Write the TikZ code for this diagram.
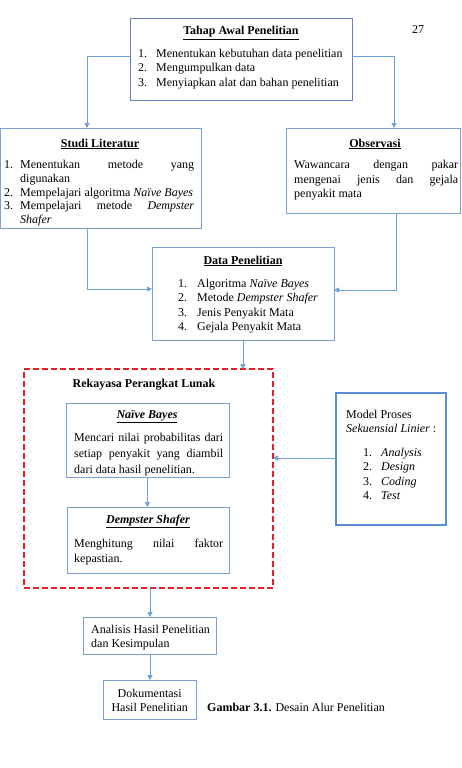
\documentclass[tikz,border=0pt]{standalone}
\usepackage{fontspec}
\setmainfont{Liberation Serif}
\usetikzlibrary{arrows.meta}
\definecolor{bxc}{RGB}{125,160,212}
\definecolor{tahc}{RGB}{105,125,195}
\definecolor{arc}{RGB}{110,160,215}
\definecolor{modc}{RGB}{90,140,210}
\definecolor{redc}{RGB}{232,30,35}
\newcommand{\tb}[3][14.5]{\parbox[t]{#2}{\fontsize{12}{#1}\selectfont\emergencystretch=2em #3}}
\newcommand{\itm}[2]{\par\noindent\hangindent=#1\hangafter=1\makebox[#1][l]{#2}\ignorespaces}
\tikzset{
  box/.style={draw=bxc, line width=1pt, rectangle, inner sep=0pt, outer sep=0pt, anchor=north west},
  txt/.style={inner sep=0pt, anchor=base west, font=\fontsize{12}{14.5}\selectfont},
  ttl/.style={inner sep=0pt, anchor=base, font=\fontsize{12}{14.5}\selectfont},
  arr/.style={draw=arc, line width=0.9pt, -{Triangle[width=5pt,length=5pt]}},
}
\begin{document}
\begin{tikzpicture}[x=1pt,y=-1pt]
\useasboundingbox (0,0) rectangle (461,768);
% boxes
\node[box, draw=tahc, minimum width=222pt, minimum height=81pt] (tahap) at (130,19) {};
\node[box, minimum width=200.5pt, minimum height=100pt] (studi) at (0.5,128) {};
\node[box, minimum width=174pt, minimum height=85pt] (obs) at (286,128) {};
\node[box, minimum width=182pt, minimum height=93pt] (data) at (152,247) {};
\node[box, draw=redc, line width=2pt, dash pattern=on 6pt off 3pt, minimum width=249pt, minimum height=219pt] (rpl) at (24,369) {};
\node[box, minimum width=163pt, minimum height=74pt] (nb) at (66,403) {};
\node[box, minimum width=162pt, minimum height=66pt] (ds) at (67,507) {};
\node[box, draw=modc, line width=2.5pt, minimum width=110pt, minimum height=132pt] (model) at (336,393) {};
\node[box, minimum width=133pt, minimum height=37pt] (ana) at (83,617) {};
\node[box, minimum width=93pt, minimum height=39pt] (dok) at (103,680) {};
% texts
\node[txt] (pg) at (412,34) {27};
\node[ttl] (taht) at (241,35) {\underline{\textbf{Tahap Awal Penelitian}}};
\node[txt] (tahl) at (138,57) {\tb{212pt}{\itm{18pt}{1.}Menentukan kebutuhan data penelitian\itm{18pt}{2.}Mengumpulkan data\itm{18pt}{3.}Menyiapkan alat dan bahan penelitian}};
\node[ttl] (studt) at (100,147) {\underline{\textbf{Studi Literatur}}};
\node[txt] (studl) at (4,168.5) {\tb[13.8]{190pt}{\itm{16pt}{1.}Menentukan metode yang\linebreak digunakan\itm{16pt}{2.}Mempelajari algoritma \textit{Naïve Bayes}\itm{16pt}{3.}Mempelajari metode \textit{Dempster}\linebreak \textit{Shafer}}};
\node[ttl] (obst) at (375,147) {\underline{\textbf{Observasi}}};
\node[txt] (obsl) at (294,168.5) {\tb{164pt}{Wawancara dengan pakar\linebreak mengenai jenis dan gejala\linebreak penyakit mata}};
\node[ttl] (datt) at (243,264) {\underline{\textbf{Data Penelitian}}};
\node[txt] (datl) at (178,287) {\tb{152pt}{\itm{19pt}{1.}Algoritma \textit{Naïve Bayes}\itm{19pt}{2.}Metode \textit{Dempster Shafer}\itm{19pt}{3.}Jenis Penyakit Mata\itm{19pt}{4.}Gejala Penyakit Mata}};
\node[ttl] (rplt) at (144,387) {\textbf{Rekayasa Perangkat Lunak}};
\node[ttl] (nbt) at (147,418) {\underline{\textbf{\textit{Naïve Bayes}}}};
\node[txt] (nbl) at (74,441) {\tb[16]{149pt}{Mencari nilai probabilitas dari\linebreak setiap penyakit yang diambil\linebreak dari data hasil penelitian.}};
\node[ttl] (dst) at (148,523) {\underline{\textbf{\textit{Dempster Shafer}}}};
\node[txt] (dsl) at (74,547) {\tb[15]{149pt}{Menghitung nilai faktor\linebreak kepastian.}};
\node[txt] (modl) at (346,418) {\tb{98pt}{Model Proses\\\textit{Sekuensial Linier} :}};
\node[txt] (modi) at (363,456) {\tb{80pt}{\itm{18pt}{1.}\textit{Analysis}\itm{18pt}{2.}\textit{Design}\itm{18pt}{3.}\textit{Coding}\itm{18pt}{4.}\textit{Test}}};
\node[txt] (anal) at (91,633) {\tb{125pt}{Analisis Hasil Penelitian\\dan Kesimpulan}};
\node[txt] (dokl) at (104,697) {\tb{91pt}{\centering Dokumentasi\\Hasil Penelitian}};
\node[txt] (cap) at (207,711) {\textbf{Gambar 3.1.} Desain Alur Penelitian};
% connectors
\draw[arr] (tahap.west |- 0,56) -| (studi.north -| 87,0);
\draw[arr] (tahap.east |- 0,56) -| (obs.north -| 394,0);
\draw[arr] (studi.south -| 87,0) |- (data.west |- 0,289);
\draw[arr] (obs.south -| 396,0) |- (data.east |- 0,290);
\draw[arr] (data.south) -- (rpl.north -| data.south);
\draw[arr] (model.west |- 0,458) -- (rpl.east |- 0,458);
\draw[arr] (nb.south) -- (nb.south |- ds.north);
\draw[arr] (rpl.south -| 150,0) -- (ana.north -| 150,0);
\draw[arr] (ana.south -| 150,0) -- (dok.north -| 150,0);
\end{tikzpicture}
\end{document}
